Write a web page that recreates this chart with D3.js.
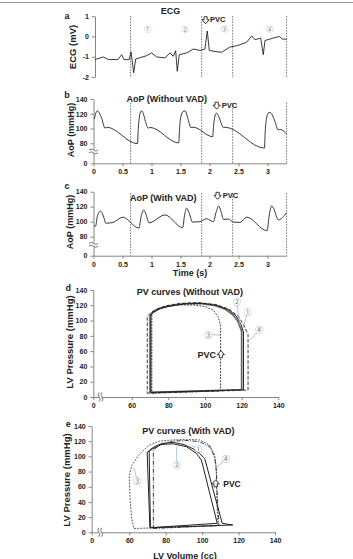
<!DOCTYPE html>
<html><head><meta charset="utf-8">
<script src="https://cdn.jsdelivr.net/npm/d3@7"></script>
<style>
body{margin:0;background:#fff}
svg text{font-family:"Liberation Sans",Arial,sans-serif}
</style>
</head><body>
<svg id="chart" width="353" height="559"></svg>
<script>
// ---------------- DATA ----------------
const timeTicks = [0, 0.5, 1, 1.5, 2, 2.5, 3];
const ecgTicks = [1, 0, -1, -2];
const aopTicks = [0, 80, 100, 120, 140];
const pvPressureTicks = [0, 20, 40, 60, 80, 100, 120, 140];
const pvVolumeTicks = [0, 60, 80, 100, 120, 140];
const beatLines = [0.64, 1.865, 2.40, 3.33];
const beatLabels = ["①", "②", "③", "④"];
const beatLabelTimes = [0.93, 1.58, 2.255, 3.04];

// ECG [time s, mV]
const ecg = [[0.026,-1.14],[0.169,-1.01],[0.255,-1.14],[0.422,-1.14],[0.486,-0.90],[0.526,-1.14],[0.617,-1.14],
 [0.647,-0.76],[0.693,-1.79],[0.728,-1.11],[0.917,-0.95],[1.003,-0.81],[1.09,-1.01],[1.233,-1.06],[1.319,-0.81],
 [1.376,-0.98],[1.417,-0.70],[1.445,-1.72],[1.479,-0.90],[1.607,-0.81],[1.721,-0.62],[1.836,-0.69],[1.922,-0.62],
 [1.962,0.27],[1.997,-0.69],[2.095,-0.74],[2.21,-0.78],[2.353,-0.52],[2.469,-0.46],[2.641,-0.29],[2.728,0.03],
 [2.784,-0.16],[2.883,-0.08],[2.928,-0.90],[2.957,-0.20],[3.10,-0.08],[3.203,0.0],[3.262,-0.13],[3.331,-0.13]];

// AoP without VAD [time s, mmHg]
const aopNoVad = [[0.014,113],[0.04,121],[0.07,124],[0.10,121],[0.141,114],[0.198,100.5],[0.228,101.8],
 [0.759,79.5],[0.772,100],[0.795,117],[0.815,123],[0.831,124],[0.86,120],[0.888,111.7],[0.945,100.5],[0.974,101.5],
 [1.47,80.5],[1.485,101],[1.51,117],[1.545,123],[1.578,124],[1.605,120],[1.634,111.7],[1.681,101.3],[1.72,101.8],
 [2.055,89],[2.07,103],[2.09,115],[2.108,120],[2.124,120.7],[2.16,116],[2.193,109.4],[2.238,101.3],[2.267,101.8],
 [2.948,73.5],[2.962,97],[2.985,114],[3.01,120.5],[3.043,122],[3.09,117],[3.13,109.4],[3.186,98.2],[3.22,98.8],[3.331,92.5]];

// AoP with VAD [time s, mmHg]
const aopVad = [[0.009,94],[0.034,94],[0.069,108],[0.121,114],[0.164,109],[0.216,98],[0.336,99],[0.503,106],
 [0.784,91.5],[0.819,106],[0.867,115.5],[0.905,110],[0.957,98.5],[1.233,109],[1.538,92],[1.569,108],[1.607,118],
 [1.647,112],[1.71,99.5],[1.836,100],[1.948,104],[2.069,100],[2.112,112],[2.16,121],[2.198,114],[2.241,103],
 [2.328,103.5],[2.41,99.5],[2.526,99],[2.641,106],[2.991,88],[3.034,110],[3.072,121],[3.112,117],[3.186,102.5],[3.331,112]];

// PV loops without VAD [volume cc, pressure mmHg]
const pvNoVad1 = [[70.5,6],[121,9.5],[121,85],[119.5,96],[117,106],[113,114],[107,119.5],[99,122.5],[90,122],[82,119.5],[76,116],[72,111],[70.5,107],[70.5,6]];
const pvNoVad2 = [[70,6],[120,9.5],[120,86],[118,99],[115,108],[111,115],[105,120],[97,122.5],[88,122],[80,119],[74,115],[71,110],[70,106],[70,6]];
const pvNoVad3 = [[71,5],[108.5,8],[108.5,94],[107.2,105],[104.5,113.8],[100,118.5],[93.6,120.4],[86,120.5],[79,118.5],[74,115],[71.5,110],[71,108],[71,5]];
const pvNoVad4 = [[68.5,5],[123.5,9],[123.5,82],[121,95],[118,106],[113,115],[106,121],[96,123.5],[86,122.5],[78,119],[72,113],[69,107],[68.5,104],[68.5,5]];

// PV loops with VAD
const pvVad1 = [[71.6,6],[116.8,9.6],[111,11.8],[101.4,97.2],[98.5,104],[95,110],[90,115.5],[84,118.5],[78,117],[74,113],[71.5,109],[70.9,107],[71.6,6]];
const pvVad2 = [[71.3,6],[108.3,11.8],[99.6,95.2],[96.8,104],[91.4,112.7],[84,116.5],[78,116],[75,112.7],[71.5,108],[69.8,105.4],[71.3,6]];
const pvVad3 = [[62.6,5],[108.6,8.5],[108.6,14],[108,44.8],[107.8,84.3],[106.8,101.9],[104.1,115],[98.6,121.6],[91.4,122.4],[84,121.6],[76.8,120.2],[70.4,114.2],[64.9,101],[61.3,87.8],[60,74.6],[60.4,43.9],[61.3,17.6],[62.6,5]];
const pvVad4 = [[73.2,5],[109.2,9],[108.5,40],[108,70],[107.6,85],[106.8,100],[104.1,112.7],[98.6,119.3],[91,121],[84,120],[77,115],[74,110],[73.2,107],[73.2,5]];

// ---------------- DRAW ----------------
const svg = d3.select("#chart");
const INK = "#222", AX = "#777", CIRC = "#7a7a7a", LEAD = "#9bb6d4";
const CJK = '"Noto Sans CJK SC","DejaVu Sans",sans-serif';
const fmt = d => String(d);

svg.append("line").attr("x1",0).attr("x2",353).attr("y1",2.5).attr("y2",2.5).attr("stroke","#999").attr("stroke-width",1);

function styleAxis(g, fs){
  g.selectAll("path,line").attr("stroke",AX).attr("stroke-width",0.9);
  g.selectAll("text").attr("fill",INK).attr("font-weight","bold").attr("font-size",fs||7)
   .style("font-family",'"Liberation Sans",Arial,sans-serif');
}
function text(x,y,s,opt={}){
  const t = svg.append("text").attr("x",x).attr("y",y).text(s)
    .attr("font-size",opt.fs||9).attr("font-weight",opt.fw||"bold").attr("fill",opt.fill||INK)
    .attr("text-anchor",opt.anchor||"middle").attr("dominant-baseline","central");
  if(opt.family) t.style("font-family",opt.family);
  if(opt.rot) t.attr("transform",`rotate(-90,${x},${y})`);
  return t;
}
function arrow(cx,cy,dir){ // block arrow outline
  const s = dir==="down"?1:-1, top = cy - s*3.5;
  const p = d3.path();
  p.moveTo(cx-1.6,top); p.lineTo(cx+1.6,top); p.lineTo(cx+1.6,top+s*3); p.lineTo(cx+3.6,top+s*3);
  p.lineTo(cx,top+s*7); p.lineTo(cx-3.6,top+s*3); p.lineTo(cx-1.6,top+s*3); p.closePath();
  svg.append("path").attr("d",p.toString()).attr("fill","#fff").attr("stroke",INK).attr("stroke-width",0.9);
}
function breakY(xa, yb){
  svg.append("rect").attr("x",xa-1.5).attr("y",yb-1.6).attr("width",3).attr("height",3.2).attr("fill","#fff");
  [-1.4,1.4].forEach(o=>svg.append("path").attr("d",`M${xa-4.5},${yb+o} q2.25,-2 4.5,0 t4.5,0`)
    .attr("fill","none").attr("stroke","#555").attr("stroke-width",0.8));
}
function breakX(xb, ya){
  svg.append("rect").attr("x",xb-1.6).attr("y",ya-1.5).attr("width",3.2).attr("height",3).attr("fill","#fff");
  [-1.4,1.4].forEach(o=>svg.append("path").attr("d",`M${xb+o},${ya-4.5} q-2,2.25 0,4.5 t0,4.5`)
    .attr("fill","none").attr("stroke","#555").attr("stroke-width",0.8));
}

// shared time scale
const xT = d3.scaleLinear().domain([0,3.33]).range([93.5,286.6]);

// ===== Panel a: ECG =====
const yA = d3.scaleLinear().domain([-2,1]).range([77,16.2]);
styleAxis(svg.append("g").attr("transform","translate(95,0)")
  .call(d3.axisLeft(yA).tickValues(ecgTicks).tickSize(3).tickSizeOuter(0).tickFormat(fmt)));
beatLines.forEach(t=>svg.append("line").attr("x1",xT(t)).attr("x2",xT(t)).attr("y1",16).attr("y2",78)
  .attr("stroke","#444").attr("stroke-width",0.7).attr("stroke-dasharray","1.6,1.2"));
svg.append("path").datum(ecg).attr("fill","none").attr("stroke",INK).attr("stroke-width",0.9)
  .attr("d",d3.line().x(d=>xT(d[0])).y(d=>yA(d[1])));
beatLabels.forEach((l,i)=>text(xT(beatLabelTimes[i]),yA(0.37),l,{fs:7,fw:"normal",fill:CIRC,family:CJK}));
text(xT(1.33),11,"ECG",{fs:9});
arrow(xT(1.934),yA(0.80),"down");
text(xT(2.01),yA(0.84),"PVC",{fs:7.5,anchor:"start"});
text(67,16,"a",{fs:9});
text(72,47,"ECG (mV)",{fs:9.5,rot:true});

// ===== Panel b: AoP without VAD =====
const yB = d3.scaleLinear().domain([0,70,140]).range([163.3,150.7,99]);
styleAxis(svg.append("g").attr("transform","translate(93.5,0)")
  .call(d3.axisLeft(yB).tickValues(aopTicks).tickSize(3).tickSizeOuter(0).tickFormat(fmt)));
styleAxis(svg.append("g").attr("transform","translate(0,163.3)")
  .call(d3.axisBottom(xT).tickValues(timeTicks).tickSize(3).tickSizeOuter(0).tickPadding(3).tickFormat(fmt)));
breakY(93.5, yB(66));
beatLines.forEach(t=>svg.append("line").attr("x1",xT(t)).attr("x2",xT(t)).attr("y1",yB(135)).attr("y2",yB(0))
  .attr("stroke","#444").attr("stroke-width",0.7).attr("stroke-dasharray","1.6,1.2"));
const lineB = d3.line().x(d=>xT(d[0])).y(d=>yB(d[1])).curve(d3.curveMonotoneX);
svg.append("path").datum(aopNoVad).attr("fill","none").attr("stroke",INK).attr("stroke-width",0.9).attr("d",lineB);
text(166.7,99,"AoP (Without VAD)",{fs:9});
arrow(xT(2.124),yB(131),"down");
text(xT(2.21),yB(131),"PVC",{fs:7.5,anchor:"start"});
text(67,95,"b",{fs:9});
text(71,130,"AoP (mmHg)",{fs:9,rot:true});

// ===== Panel c: AoP with VAD =====
const yC = d3.scaleLinear().domain([0,70,140]).range([255.7,244.2,191.7]);
styleAxis(svg.append("g").attr("transform","translate(93.5,0)")
  .call(d3.axisLeft(yC).tickValues(aopTicks).tickSize(3).tickSizeOuter(0).tickFormat(fmt)));
styleAxis(svg.append("g").attr("transform","translate(0,255.7)")
  .call(d3.axisBottom(xT).tickValues(timeTicks).tickSize(3).tickSizeOuter(0).tickPadding(3).tickFormat(fmt)));
breakY(93.5, yC(66));
beatLines.forEach(t=>svg.append("line").attr("x1",xT(t)).attr("x2",xT(t)).attr("y1",yC(138)).attr("y2",yC(0))
  .attr("stroke","#444").attr("stroke-width",0.7).attr("stroke-dasharray","1.6,1.2"));
const lineC = d3.line().x(d=>xT(d[0])).y(d=>yC(d[1])).curve(d3.curveMonotoneX);
svg.append("path").datum(aopVad).attr("fill","none").attr("stroke",INK).attr("stroke-width",0.9).attr("d",lineC);
text(163.3,198.3,"AoP (With VAD)",{fs:9});
arrow(xT(2.14),yC(134.5),"down");
text(xT(2.23),yC(134.5),"PVC",{fs:7.5,anchor:"start"});
text(67,186,"c",{fs:9});
text(69.5,222,"AoP (mmHg)",{fs:9,rot:true});
text(190,273,"Time (s)",{fs:9});

// ===== PV panels =====
function pvPanel(cfg){
  const xS = d3.scaleLinear().domain([0,45,140]).range(cfg.xr);
  const yS = d3.scaleLinear().domain([0,140]).range(cfg.yr);
  styleAxis(svg.append("g").attr("transform",`translate(${cfg.xr[0]},0)`)
    .call(d3.axisLeft(yS).tickValues(pvPressureTicks).tickSize(3).tickSizeOuter(0).tickFormat(fmt)));
  styleAxis(svg.append("g").attr("transform",`translate(0,${cfg.yr[0]})`)
    .call(d3.axisBottom(xS).tickValues(pvVolumeTicks).tickSize(3).tickSizeOuter(0).tickPadding(3).tickFormat(fmt)));
  breakX(xS(cfg.brk), cfg.yr[0]);
  const ln = d3.line().x(d=>xS(d[0])).y(d=>yS(d[1]));
  cfg.loops.forEach(L=>{
    svg.append("path").datum(L.data).attr("fill","none").attr("stroke",L.color).attr("stroke-width",L.w)
      .attr("stroke-dasharray",L.dash||null).attr("stroke-linejoin","round").attr("d",ln);
  });
  cfg.labels.forEach(l=>{
    svg.append("line").attr("x1",xS(l.at[0])).attr("y1",yS(l.at[1])).attr("x2",xS(l.to[0])).attr("y2",yS(l.to[1]))
      .attr("stroke",LEAD).attr("stroke-width",0.8);
    svg.append("circle").attr("cx",xS(l.at[0])).attr("cy",yS(l.at[1])).attr("r",3.6).attr("fill","#fff");
    text(xS(l.at[0]),yS(l.at[1]),l.s,{fs:8,fw:"normal",fill:CIRC,family:CJK});
  });
  arrow(xS(cfg.pvc[0]),yS(cfg.pvc[1]),"up");
  if(cfg.pvcAnchor==="start") text(xS(cfg.pvcText[0]),yS(cfg.pvcText[1]),"PVC",{fs:cfg.pvcFs,anchor:"start"});
  else text(xS(cfg.pvcText[0]),yS(cfg.pvcText[1]),"PVC",{fs:cfg.pvcFs,anchor:"end"});
}

pvPanel({
  xr:[93.3,104.2,278.3], yr:[397,290], brk:30,
  loops:[
    {data:pvNoVad2,color:"#666",w:1.7},
    {data:pvNoVad1,color:INK,w:1},
    {data:pvNoVad4,color:INK,w:0.9,dash:"3.5,1.8"},
    {data:pvNoVad3,color:INK,w:0.9,dash:"1.8,1.3"}
  ],
  labels:[
    {s:"②",at:[117.3,124.7],to:[119.1,94]},
    {s:"①",at:[123.3,112.5],to:[120.9,90]},
    {s:"④",at:[129.6,87.7],to:[124.6,74.6]},
    {s:"③",at:[101.8,82],to:[108.2,81]}
  ],
  pvc:[108.7,56], pvcText:[106,55], pvcAnchor:"end", pvcFs:9
});
text(190,291.7,"PV curves (Without VAD)",{fs:9});
text(68.3,288.3,"d",{fs:9});
text(69.3,342,"LV Pressure (mmHg)",{fs:9.5,rot:true});

pvPanel({
  xr:[91.7,102.0,275], yr:[532.3,426], brk:37,
  loops:[
    {data:pvVad3,color:"#444",w:0.9,dash:"1.8,1.3"},
    {data:pvVad4,color:INK,w:0.9,dash:"4,1.5,1,1.5"},
    {data:pvVad1,color:INK,w:1},
    {data:pvVad2,color:INK,w:1}
  ],
  labels:[
    {s:"②",at:[86,89.6],to:[86,112.7]},
    {s:"①",at:[97.9,110.6],to:[94.3,114]},
    {s:"④",at:[113.1,97.5],to:[108,85]},
    {s:"③",at:[64.4,67.6],to:[62.6,84.3]}
  ],
  pvc:[107.4,64.5], pvcText:[111.6,63], pvcAnchor:"start", pvcFs:8.5
});
text(188.3,431,"PV curves (With VAD)",{fs:9});
text(68.3,424.3,"e",{fs:9});
text(66.7,480,"LV Pressure (mmHg)",{fs:9.5,rot:true});
text(185,555.5,"LV Volume (cc)",{fs:9});
</script>
</body></html>
